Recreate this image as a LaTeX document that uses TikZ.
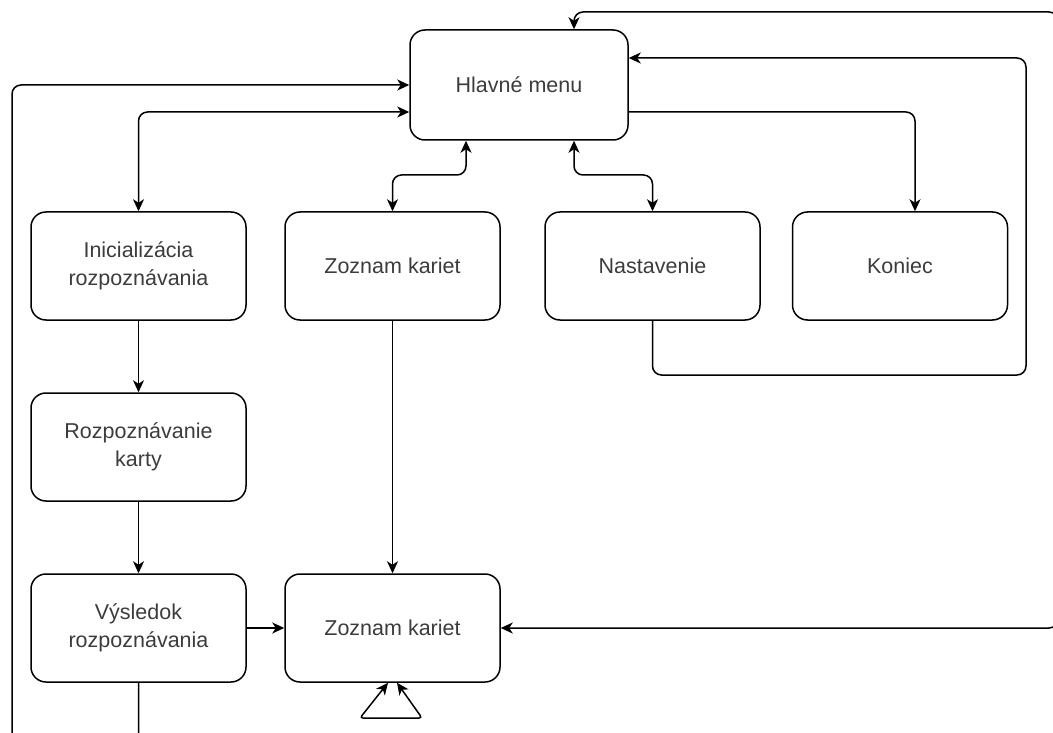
\documentclass[tikz,border=0pt]{standalone}
\usepackage{fontspec}
\setmainfont{Liberation Sans}
\usetikzlibrary{arrows.meta,calc}
\definecolor{txt}{RGB}{60,60,60}
\begin{document}
\begin{tikzpicture}[x=1pt,y=-1pt,
  box/.style={draw=black,line width=1.5pt,rounded corners=15pt,minimum width=215pt,minimum height=108pt,
    align=center,font=\fontsize{21.5pt}{28pt}\selectfont,text=txt,inner sep=0pt},
  conn/.style={line width=1.5pt,rounded corners=9pt},
  tip/.tip={Stealth[length=12pt,width=11pt,inset=3.5pt]},
  >=tip]
\useasboundingbox (0,0) rectangle (1053,733);
\node[box,minimum width=218pt,minimum height=110pt] (menu) at (519,85) {Hlavné menu};
\node[box] (init) at (138.5,266) {Inicializácia\\rozpoznávania};
\node[box] (zoz1) at (392.5,266) {Zoznam kariet};
\node[box] (nast) at (652.5,266) {Nastavenie};
\node[box] (kon) at (900,266) {Koniec};
\node[box] (rozp) at (138.5,447) {Rozpoznávanie\\karty};
\node[box] (vys) at (138.5,628) {Výsledok\\rozpoznávania};
\node[box] (zoz2) at (392.5,628) {Zoznam kariet};
% connectors
\draw[conn,<->] (init.north) |- (menu.west |- 0,112);
\draw[conn,->] (vys.south) |- (12,742) |- (menu.west |- 0,85);
\draw[conn,<->] (zoz1.north) |- (466,175) -- (menu.south -| 466,0);
\draw[conn,<->] (nast.north) |- (574,175) -- (menu.south -| 574,0);
\draw[conn,->] (menu.east |- 0,112) -| (kon.north -| 915,0);
\draw[conn,->] (nast.south) |- (1026,375) |- (menu.east |- 0,58);
\draw[conn,<->] (zoz2.east) -- (1058,628) |- (574,12) -- (menu.north -| 574,0);
\draw[conn,->] (init.south) -- (rozp.north);
\draw[conn,->] (rozp.south) -- (vys.north);
\draw[conn,->] (vys.east) -- (zoz2.west);
\draw[conn,->] (zoz1.south) -- (zoz2.north);
\draw[conn,rounded corners=3pt,<->] (zoz2.south -| 388,0) -- (360,718) -- (422,718) -- (zoz2.south -| 397,0);
\end{tikzpicture}
\end{document}
